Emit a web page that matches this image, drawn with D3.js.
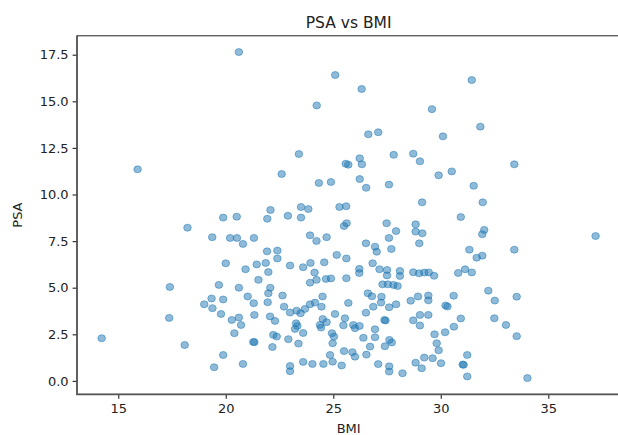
<!DOCTYPE html>
<html>
<head>
<meta charset="utf-8">
<script src="https://cdn.jsdelivr.net/npm/d3@7"></script>
<style>
  body { margin: 0; background: #fff; }
  svg { display: block; }
</style>
</head>
<body>
<script>
// values, one entry per point
const bmi = [
  20.61, 25.09, 31.44, 26.32, 24.23, 29.59, 31.84, 26.63, 27.09, 30.10,
  23.40, 27.81, 28.72, 29.03, 25.58, 25.70, 26.23, 26.33, 33.42, 30.51,
  29.90, 15.90, 22.60, 24.33, 24.89, 26.23, 26.53, 27.59, 31.53, 29.13,
  31.95, 25.29, 25.60, 23.50, 23.84, 22.08, 22.89, 19.88, 20.51, 21.93,
  23.50, 30.93, 18.22, 25.50, 25.62, 27.48, 28.83, 27.92, 28.83, 29.14,
  32.02, 31.93, 19.37, 20.20, 20.52, 20.80, 21.31, 23.92, 24.22, 24.69,
  27.59, 26.52, 26.94, 27.02, 27.70, 29.00, 31.33, 33.42, 21.92, 22.40,
  22.40, 25.16, 25.61, 31.67, 31.93, 37.20, 20.00, 20.92, 21.44, 21.86,
  21.98, 22.99, 23.60, 23.94, 24.13, 24.58, 26.83, 26.21, 26.21, 27.15,
  27.50, 27.50, 28.10, 28.10, 28.72, 28.99, 29.23, 29.44, 29.69, 30.81,
  31.13, 31.44, 23.92, 24.22, 24.66, 24.89, 25.61, 21.52, 19.68, 20.61,
  17.40, 22.07, 21.98, 21.02, 22.64, 27.29, 27.54, 27.80, 27.99, 32.21,
  19.34, 19.88, 24.50, 26.61, 26.80, 27.24, 28.94, 29.42, 30.60, 33.53,
  32.51, 19.00, 19.38, 19.78, 21.30, 21.95, 22.71, 22.99, 23.30, 23.68,
  23.92, 24.15, 24.45, 25.70, 27.22, 27.60, 27.92, 26.52, 26.86, 28.60,
  29.42, 30.22, 30.31, 20.28, 20.61, 20.71, 21.33, 22.06, 22.29, 23.48,
  24.51, 24.69, 24.38, 25.08, 25.54, 25.47, 25.93, 26.22, 26.01, 27.38,
  27.43, 28.72, 29.03, 29.42, 29.03, 30.93, 32.49, 30.61, 33.03, 17.37,
  23.27, 23.33, 23.22, 24.43, 23.60, 24.94, 25.03, 26.94, 26.94, 26.40,
  27.61, 27.72, 27.40, 29.71, 30.20, 33.53, 20.40, 22.21, 22.37, 21.33,
  21.28, 14.23, 22.91, 22.17, 18.09, 23.38, 24.97, 26.71, 29.81, 29.90,
  25.50, 25.89, 26.01, 26.54, 24.85, 19.88, 31.23, 19.46, 20.80, 22.99,
  22.99, 23.60, 24.03, 24.54, 24.97, 25.39, 27.09, 27.60, 27.60, 28.22,
  28.83, 29.23, 29.11, 29.62, 30.01, 31.02, 31.06, 31.23, 34.03
];

const psa = [
  17.64, 16.41, 16.14, 15.66, 14.78, 14.58, 13.64, 13.23, 13.34, 13.12,
  12.17, 12.13, 12.19, 11.78, 11.65, 11.60, 11.94, 11.62, 11.62, 11.24,
  11.03, 11.35, 11.10, 10.62, 10.67, 10.83, 10.36, 10.53, 10.47, 9.58,
  9.58, 9.33, 9.37, 9.33, 9.22, 9.17, 8.86, 8.76, 8.81, 8.70,
  8.76, 8.79, 8.22, 8.31, 8.46, 8.46, 8.40, 8.04, 8.01, 7.92,
  8.10, 7.87, 7.71, 7.67, 7.67, 7.35, 7.67, 7.81, 7.51, 7.71,
  7.67, 7.38, 7.20, 6.93, 7.08, 7.38, 7.04, 7.04, 6.95, 6.99,
  6.57, 6.76, 6.57, 6.61, 6.72, 7.77, 6.31, 5.99, 6.25, 6.33,
  5.84, 6.19, 6.10, 6.33, 5.81, 6.36, 6.31, 6.01, 5.79, 5.99,
  5.95, 5.66, 5.90, 5.63, 5.83, 5.77, 5.81, 5.82, 5.64, 5.79,
  5.99, 5.82, 5.27, 5.42, 5.47, 5.50, 5.51, 5.42, 5.15, 5.00,
  5.04, 5.00, 4.70, 4.53, 4.58, 5.18, 5.18, 5.15, 5.09, 4.84,
  4.42, 4.37, 4.53, 4.70, 4.54, 4.52, 4.53, 4.58, 4.57, 4.52,
  4.31, 4.11, 3.90, 3.59, 4.17, 4.22, 3.98, 3.67, 3.77, 3.86,
  4.11, 4.20, 3.98, 4.18, 4.20, 3.95, 4.11, 3.66, 3.98, 4.30,
  4.32, 4.05, 3.99, 3.27, 3.40, 3.00, 3.54, 3.46, 3.22, 3.63,
  3.32, 3.15, 3.00, 3.59, 3.36, 2.98, 3.00, 2.95, 2.83, 3.27,
  3.24, 3.25, 3.54, 3.54, 2.97, 3.35, 3.36, 2.91, 3.00, 3.38,
  3.09, 2.95, 2.79, 2.86, 2.57, 2.56, 2.38, 2.77, 2.34, 2.31,
  2.20, 2.06, 1.86, 2.50, 2.61, 2.40, 2.56, 2.47, 2.38, 2.08,
  2.09, 2.29, 2.24, 1.82, 1.93, 2.00, 2.02, 1.84, 2.02, 1.64,
  1.60, 1.54, 1.30, 1.41, 1.39, 1.39, 1.39, 0.73, 0.91, 0.80,
  0.52, 1.02, 0.91, 0.91, 1.03, 0.83, 0.90, 0.78, 0.50, 0.41,
  0.98, 1.25, 0.68, 1.22, 0.95, 0.88, 0.86, 0.24, 0.15
];

const xTicks = [15, 20, 25, 30, 35];
const yTicks = [0, 2.5, 5, 7.5, 10, 12.5, 15, 17.5];

const W = 618, H = 435;
const plotLeft = 77, plotRight = 620.3, plotTop = 35.8, plotBottom = 394.4;

// matplotlib style 5% padding around the data
function padded(vals) {
  const [lo, hi] = d3.extent(vals);
  const m = (hi - lo) * 0.05;
  return [lo - m, hi + m];
}

const x = d3.scaleLinear().domain(padded(bmi)).range([plotLeft, plotRight]);
const y = d3.scaleLinear().domain(padded(psa)).range([plotBottom, plotTop]);

const font = 'DejaVu Sans, sans-serif';

const svg = d3.select('body')
  .append('svg')
  .attr('width', W)
  .attr('height', H);

svg.append('g')
  .selectAll('ellipse')
  .data(d3.range(bmi.length))
  .enter()
  .append('ellipse')
  .attr('cx', i => x(bmi[i]))
  .attr('cy', i => y(psa[i]))
  .attr('rx', 3.8)
  .attr('ry', 3.5)
  .attr('fill', '#1f77b4')
  .attr('fill-opacity', 0.5)
  .attr('stroke', '#1f77b4')
  .attr('stroke-opacity', 0.5)
  .attr('stroke-width', 1);

const xAxis = svg.append('g')
  .attr('transform', `translate(0,${plotBottom})`)
  .call(d3.axisBottom(x).tickValues(xTicks).tickFormat(d3.format('d')).tickSize(4.4).tickPadding(4.5));

const yAxis = svg.append('g')
  .attr('transform', `translate(${plotLeft},0)`)
  .call(d3.axisLeft(y).tickValues(yTicks).tickFormat(d3.format('.1f')).tickSize(4.4).tickPadding(4));

[xAxis, yAxis].forEach(a => {
  a.select('.domain').remove();
  a.selectAll('line').attr('stroke', '#333').attr('stroke-width', 1.2);
  a.selectAll('text')
    .attr('font-family', font)
    .attr('font-size', '13px')
    .attr('fill', '#222');
});

// spines: bottom and left look a bit heavier in the reference
svg.append('rect')
  .attr('x', plotLeft)
  .attr('y', plotTop)
  .attr('width', plotRight - plotLeft)
  .attr('height', plotBottom - plotTop)
  .attr('fill', 'none')
  .attr('stroke', '#222')
  .attr('stroke-width', 1);

svg.append('path')
  .attr('d', `M${plotLeft},${plotTop}V${plotBottom}H${plotRight}`)
  .attr('fill', 'none')
  .attr('stroke', '#555')
  .attr('stroke-width', 1.6);

svg.append('text')
  .text('PSA vs BMI')
  .attr('x', (plotLeft + plotRight) / 2)
  .attr('y', 28)
  .attr('text-anchor', 'middle')
  .attr('font-family', font)
  .attr('font-size', '15.5px')
  .attr('fill', '#222');

svg.append('text')
  .text('BMI')
  .attr('x', (plotLeft + plotRight) / 2)
  .attr('y', 433)
  .attr('text-anchor', 'middle')
  .attr('font-family', font)
  .attr('font-size', '13px')
  .attr('fill', '#222');

svg.append('text')
  .text('PSA')
  .attr('transform', `translate(22,${(plotTop + plotBottom) / 2}) rotate(-90)`)
  .attr('text-anchor', 'middle')
  .attr('font-family', font)
  .attr('font-size', '13px')
  .attr('fill', '#222');
</script>
</body>
</html>
